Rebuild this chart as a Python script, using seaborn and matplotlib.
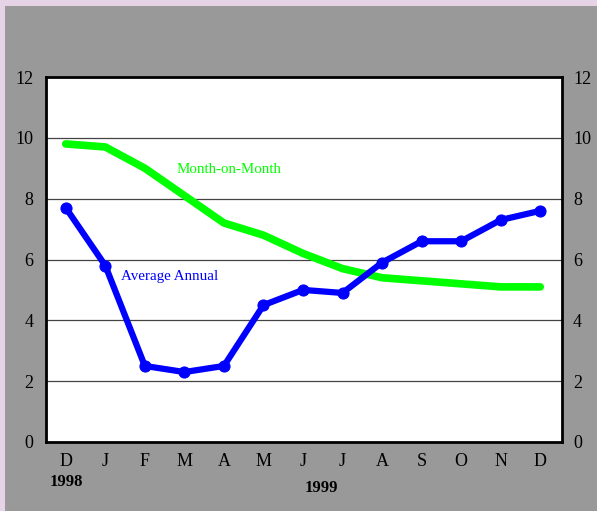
import matplotlib
matplotlib.use('Agg')
import matplotlib.pyplot as plt
import seaborn as sns
import pandas as pd

months = ['D', 'J', 'F', 'M', 'A', 'M', 'J', 'J', 'A', 'S', 'O', 'N', 'D']
average_annual = [7.7, 5.8, 2.5, 2.3, 2.5, 4.5, 5.0, 4.9, 5.9, 6.6, 6.6, 7.3, 7.6]
month_on_month = [9.8, 9.7, 9.0, 8.1, 7.2, 6.8, 6.2, 5.7, 5.4, 5.3, 5.2, 5.1, 5.1]
yticks = [0, 2, 4, 6, 8, 10, 12]

df = pd.DataFrame({'pos': range(len(months)), 'avg': average_annual, 'mom': month_on_month})

sns.set_style('white')
plt.rcParams['font.family'] = ['Liberation Serif', 'DejaVu Serif']
plt.rcParams['text.color'] = 'black'
plt.rcParams['xtick.color'] = 'black'
plt.rcParams['ytick.color'] = 'black'

fig = plt.figure(figsize=(5.97, 5.11), dpi=100, facecolor='#e6d3e6')
# gray panel inside the lavender strip
fig.patches.append(plt.Rectangle((5 / 597, 0), 1, 1 - 6 / 511, transform=fig.transFigure,
                                 facecolor='#999999', edgecolor='none', zorder=-10))
ax = fig.add_axes([46 / 597, 1 - 442 / 511, 516 / 597, 365 / 511])
ax.set_facecolor('white')

sns.lineplot(data=df, x='pos', y='mom', color='#00ff00', linewidth=5.5, ax=ax)
sns.lineplot(data=df, x='pos', y='avg', color='#0000ff', linewidth=4.5,
             marker='o', markersize=8, markeredgecolor='#0000ff', ax=ax)

ax.set_xlim(-0.5, 12.55)
ax.set_ylim(0, 12)
ax.set_yticks(yticks)
ax.set_xticks(range(len(months)))
ax.set_xticklabels(months, fontsize=13)
ax.set_yticklabels(yticks, fontsize=13)
ax.tick_params(axis='x', length=0, pad=8)
ax.tick_params(axis='y', length=0, pad=9)
for y in yticks[1:-1]:
    ax.axhline(y, color='#444444', linewidth=0.9, zorder=0)
for s in ax.spines.values():
    s.set_color('black')
    s.set_linewidth(2)
ax.set_xlabel('')
ax.set_ylabel('')

ax2 = ax.twinx()
ax2.set_ylim(0, 12)
ax2.set_yticks(yticks)
ax2.set_yticklabels(yticks, fontsize=13)
ax2.tick_params(axis='y', length=0, pad=8)
for s in ax2.spines.values():
    s.set_visible(False)

ax.text(2.8, 8.95, 'Month-on-Month', color='#00ff00', fontsize=10.8, ha='left', va='center')
ax.text(1.4, 5.45, 'Average Annual', color='#0000ff', fontsize=10.8, ha='left', va='center')

fig.text(66 / 597, 1 - 482 / 511, '1998', fontsize=12, fontweight='bold', ha='center', va='center')
fig.text(321 / 597, 1 - 488 / 511, '1999', fontsize=12, fontweight='bold', ha='center', va='center')

fig.savefig('out.png', dpi=100, facecolor=fig.get_facecolor())
